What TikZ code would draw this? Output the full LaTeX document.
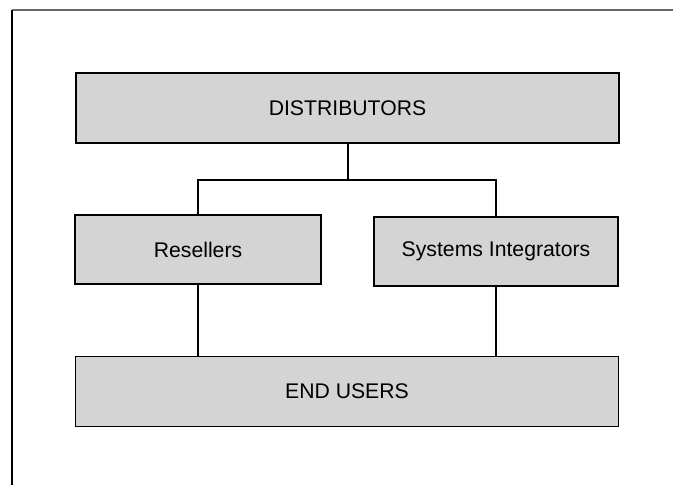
\documentclass[tikz,border=0pt]{standalone}
\usepackage{fontspec}
\setmainfont{Liberation Sans}
\begin{document}
\begin{tikzpicture}[x=1pt,y=-1pt,
  boxstyle/.style={draw=black,line width=1.4pt,fill=black!17,inner sep=0pt,font=\fontsize{21.2}{25}\selectfont},
  conn/.style={draw=black,line width=2.2pt}]
\useasboundingbox (0,0) rectangle (673,485);
\draw[line width=1.5pt,black!60] (12,10) -- (673,10);
\draw[line width=1.5pt,black] (12,10) -- (12,485);
\node[boxstyle,minimum width=543pt,minimum height=70pt] (dist) at (347.5,108) {DISTRIBUTORS};
\node[boxstyle,minimum width=246pt,minimum height=69pt] (res) at (198,249.5) {Resellers};
\node[boxstyle,minimum width=244pt,minimum height=69pt] (si) at (496,251.5) {Systems Integrators};
\node[boxstyle,minimum width=543pt,minimum height=70pt] (end) at (347,391.5) {END USERS};
\coordinate (j) at (348,180);
\draw[conn] (dist.south -| j) -- (j);
\draw[conn] (res.north) |- (j) -| (si.north);
\draw[conn] (res.south) -- (res.south |- end.north);
\draw[conn] (si.south) -- (si.south |- end.north);
\end{tikzpicture}
\end{document}
